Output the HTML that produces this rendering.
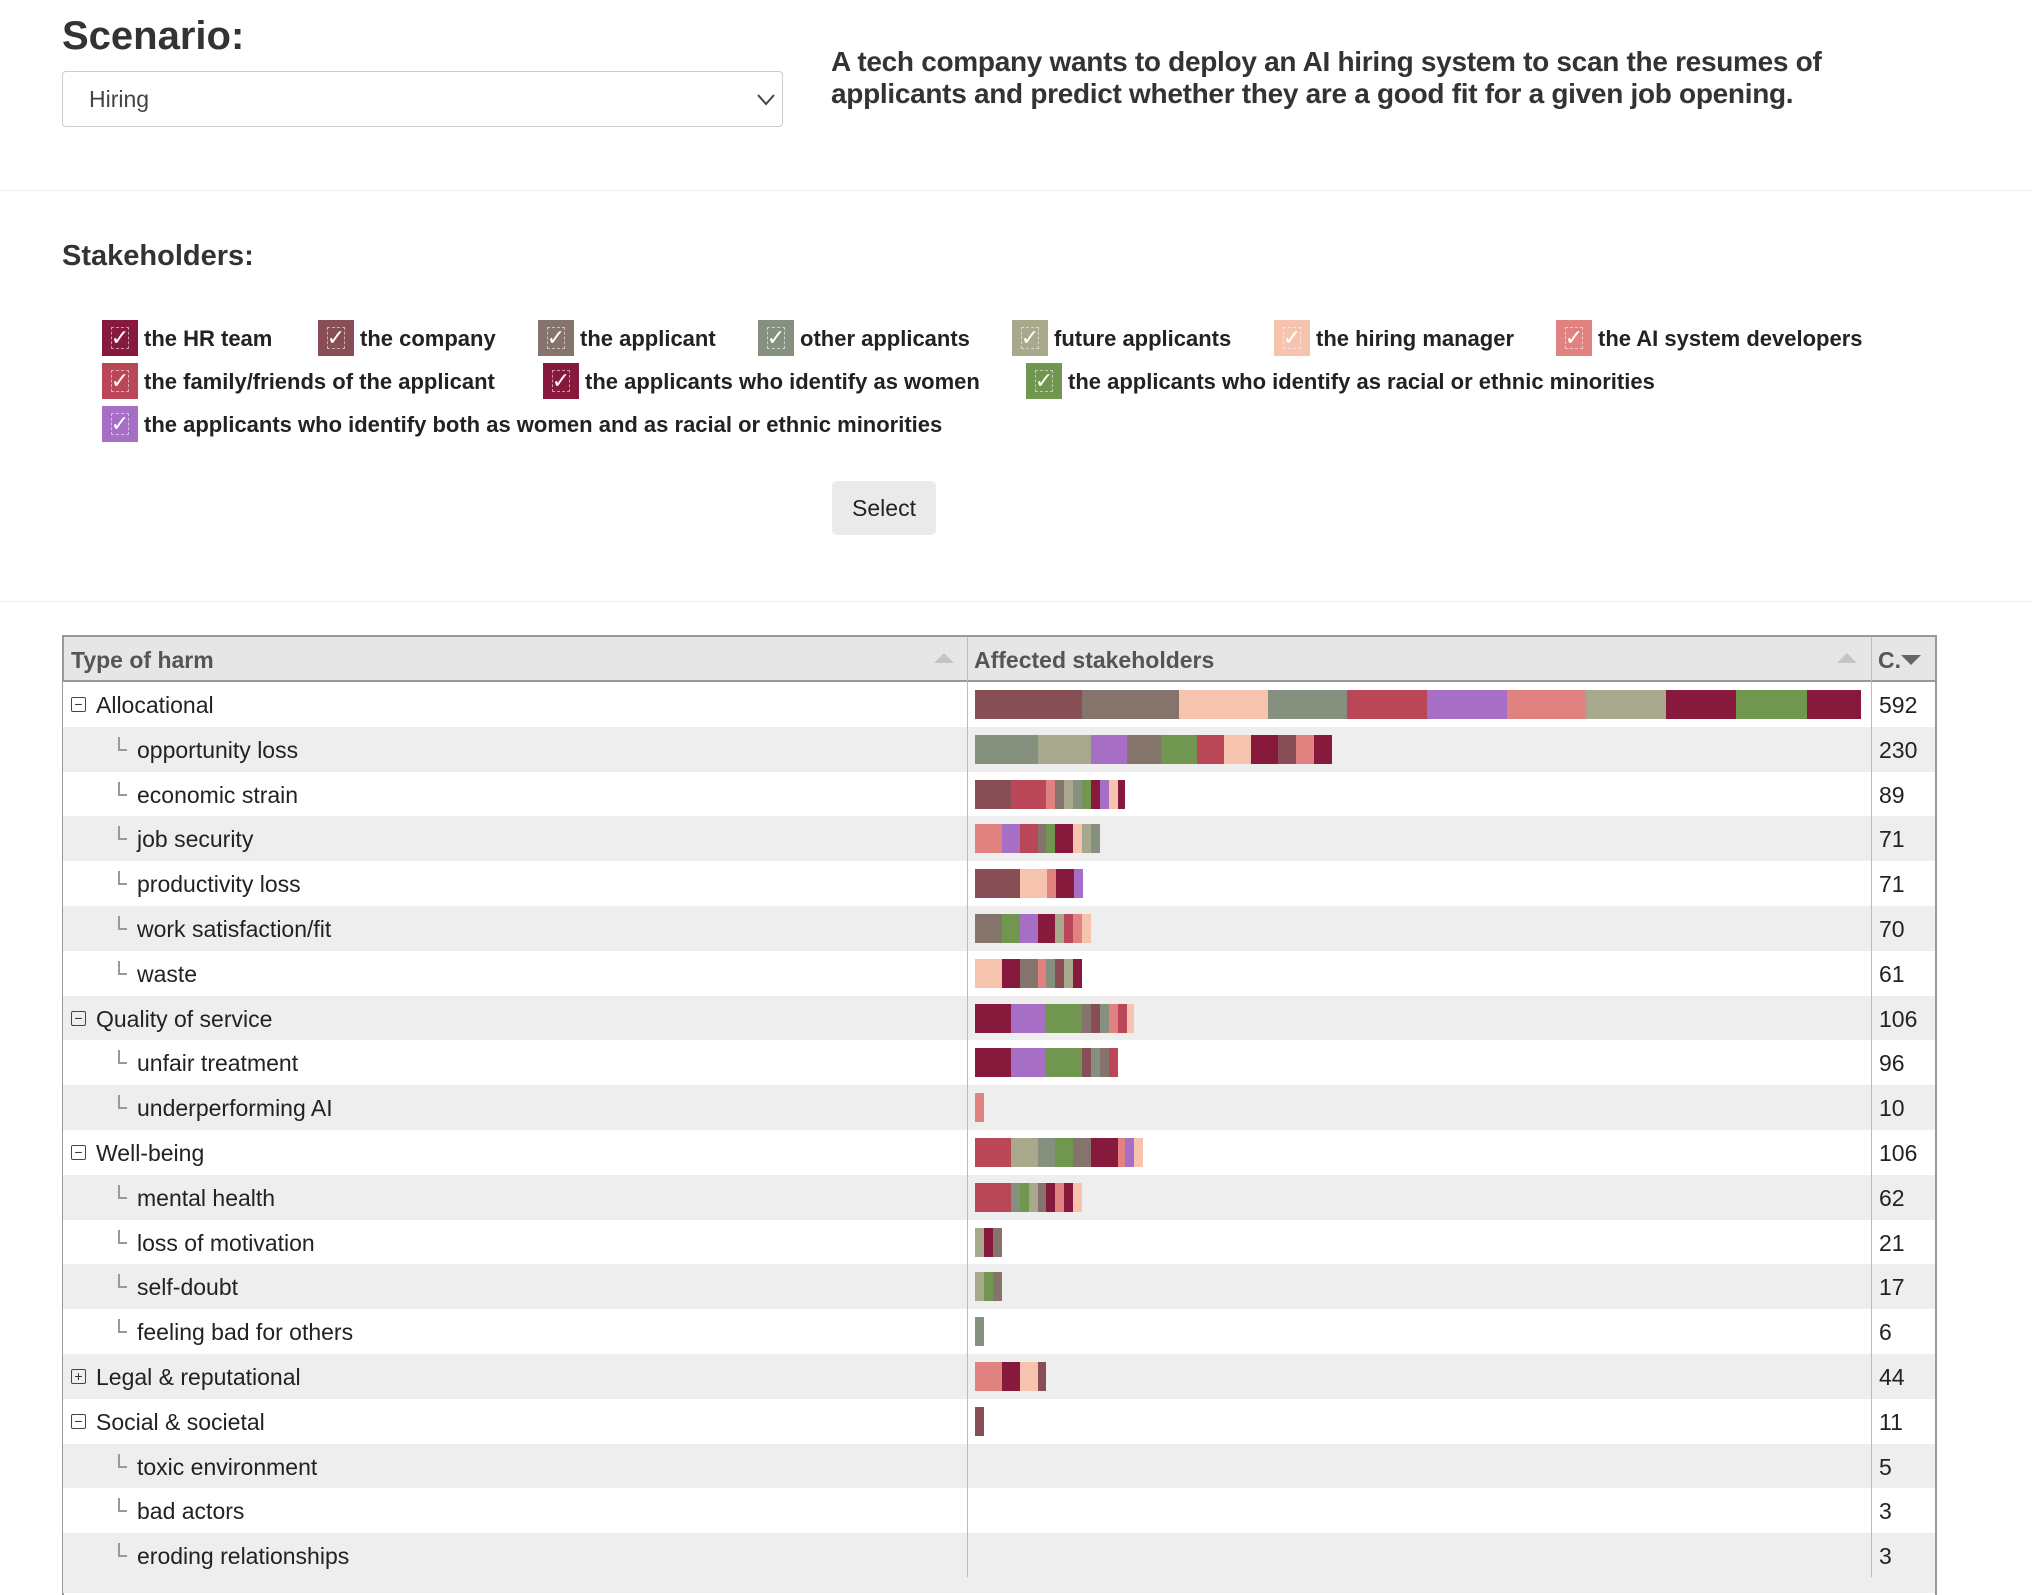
<!DOCTYPE html>
<html><head><meta charset="utf-8">
<style>
*{box-sizing:border-box;margin:0;padding:0}
body{width:2032px;height:1576px;overflow:hidden;background:#fff;font-family:"Liberation Sans",Arial,sans-serif;color:#222;position:relative}
.abs{position:absolute}
.cb{position:absolute;width:36px;height:36px;color:#fff;font-size:22px;text-align:center;line-height:36px}
.cb::after{content:"";position:absolute;left:9px;top:7px;width:16px;height:20px;border:1px dashed rgba(255,255,255,.55)}
.lbl{position:absolute;font-size:22px;font-weight:bold;color:#222;white-space:nowrap}
.row{position:absolute;left:63px;width:1872px;height:45px}
.cell{position:absolute;font-size:23px;white-space:nowrap;top:10px}
.seg{position:absolute}
</style></head><body>
<div class="abs" style="left:62px;top:14px;font-size:40px;font-weight:bold;color:#333">Scenario:</div>
<div class="abs" style="left:62px;top:71px;width:721px;height:56px;border:1px solid #ccc;border-radius:4px;background:#fff">
 <span class="abs" style="left:26px;top:14px;font-size:23px;color:#444">Hiring</span>
 <svg class="abs" style="left:694px;top:22px" width="18" height="12"><path d="M1 1 L9 10 L17 1" fill="none" stroke="#444" stroke-width="2"/></svg>
</div>
<div class="abs" style="left:831px;top:46px;font-size:28px;line-height:32px;color:#333;font-weight:bold;letter-spacing:-0.3px;width:1040px">A tech company wants to deploy an AI hiring system to scan the resumes of applicants and predict whether they are a good fit for a given job opening.</div>
<div class="abs" style="left:0;top:190px;width:2032px;height:1px;background:#eee"></div>
<div class="abs" style="left:62px;top:240px;font-size:29px;font-weight:bold;color:#333">Stakeholders:</div>
<div id="legend"></div>
<div class="abs" style="left:832px;top:481px;width:104px;height:54px;background:#eaeaea;border-radius:5px;font-size:23px;text-align:center;line-height:54px;color:#222">Select</div>
<div class="abs" style="left:0;top:601px;width:2032px;height:1px;background:#eee"></div>

<div class="abs" style="left:62px;top:635px;width:1875px;height:960px;border:2px solid #999;border-bottom:none"></div>
<div class="abs" style="left:64px;top:637px;width:1871px;height:45px;background:#e6e6e6;border-bottom:2px solid #999"></div>
<div class="abs" style="left:71px;top:647px;font-size:23px;font-weight:bold;color:#555">Type of harm</div>
<div class="abs" style="left:934px;top:653px;width:0;height:0;border-left:10px solid transparent;border-right:10px solid transparent;border-bottom:10px solid #c4c4c4"></div>
<div class="abs" style="left:974px;top:647px;font-size:23px;font-weight:bold;color:#555">Affected stakeholders</div>
<div class="abs" style="left:1837px;top:653px;width:0;height:0;border-left:10px solid transparent;border-right:10px solid transparent;border-bottom:10px solid #c4c4c4"></div>
<div class="abs" style="left:1878px;top:647px;font-size:23px;font-weight:bold;color:#555">C.</div>
<div class="abs" style="left:1901px;top:655px;width:0;height:0;border-left:10px solid transparent;border-right:10px solid transparent;border-top:10px solid #666"></div>
<div id="rows"></div>
<div class="abs" style="left:967px;top:637px;width:1px;height:940px;background:#bbb"></div>
<div class="abs" style="left:1871px;top:637px;width:1px;height:940px;background:#bbb"></div>

<script>
const colors = {c1:"#874E55",c2:"#84746C",c3:"#F6C3AE",c4:"#86907F",c5:"#BA4757",c6:"#A66FC5",c7:"#E08280",c8:"#A8A88C",c9:"#87193C",c10:"#70964F"};
const stakeholders = ["the HR team","the company","the applicant","other applicants","future applicants","the hiring manager","the AI system developers","the family/friends of the applicant","the applicants who identify as women","the applicants who identify as racial or ethnic minorities","the applicants who identify both as women and as racial or ethnic minorities"];
const stakeholderColors = ["c9","c1","c2","c4","c8","c3","c7","c5","c9","c10","c6"];
const harmLabels = ["Allocational","opportunity loss","economic strain","job security","productivity loss","work satisfaction/fit","waste","Quality of service","unfair treatment","underperforming AI","Well-being","mental health","loss of motivation","self-doubt","feeling bad for others","Legal & reputational","Social & societal","toxic environment","bad actors","eroding relationships"];
const harmLevels = [0,1,1,1,1,1,1,0,1,1,0,1,1,1,1,0,0,1,1,1];
const harmCounts = [592,230,89,71,71,70,61,106,96,10,106,62,21,17,6,44,11,5,3,3];
const segCounts = [
 [71,65,59,53,53,53,53,53,47,47,36],
 [42,35,24,23,24,18,18,18,12,12,12],
 [24,23,6,6,6,6,6,6,6,6,5],
 [18,12,12,5,6,12,6,6,6],
 [30,18,6,12,6],
 [18,12,12,11,6,6,6,6],
 [18,12,12,5,6,6,6,6],
 [24,23,24,6,6,6,6,6,5],
 [24,23,24,6,6,6,6],
 [6],
 [24,18,11,12,12,18,5,6,6],
 [24,6,6,6,5,6,6,6,6],
 [6,6,6],
 [6,6,6],
 [6],
 [18,12,12,5],
 [6],[],[],[]
];
const segColors = [
 ["c1","c2","c3","c4","c5","c6","c7","c8","c9","c10","c9"],
 ["c4","c8","c6","c2","c10","c5","c3","c9","c1","c7","c9"],
 ["c1","c5","c7","c2","c8","c4","c10","c9","c6","c3","c9"],
 ["c7","c6","c5","c2","c10","c9","c3","c8","c4"],
 ["c1","c3","c7","c9","c6"],
 ["c2","c10","c6","c9","c8","c5","c7","c3"],
 ["c3","c9","c2","c7","c4","c1","c8","c9"],
 ["c9","c6","c10","c2","c1","c4","c7","c5","c3"],
 ["c9","c6","c10","c1","c4","c2","c5"],
 ["c7"],
 ["c5","c8","c4","c10","c2","c9","c7","c6","c3"],
 ["c5","c4","c10","c8","c2","c9","c7","c9","c3"],
 ["c8","c9","c2"],
 ["c8","c10","c2"],
 ["c4"],
 ["c7","c9","c3","c1"],
 ["c1"],[],[],[]
];
const collapsed = [15];

const legPos=[[102,320],[318,320],[538,320],[758,320],[1012,320],[1274,320],[1556,320],[102,363],[543,363],[1026,363],[102,406]];
const leg=document.getElementById('legend');
stakeholders.forEach((s,i)=>{
 const b=document.createElement('div');b.className='cb';
 b.style.left=legPos[i][0]+'px';b.style.top=legPos[i][1]+'px';b.style.background=colors[stakeholderColors[i]];
 b.textContent='✓';
 
 
 leg.appendChild(b);
 const l=document.createElement('div');l.className='lbl';
 l.style.left=(legPos[i][0]+42)+'px';l.style.top=(legPos[i][1]+6)+'px';l.textContent=s;
 
 
 leg.appendChild(l);
});

const rowTop=682, pitch=44.8, barX0=975, barMaxW=889, maxTotal=592;
const xScale=v=>v*barMaxW/maxTotal;
const rows=document.getElementById('rows');
harmLabels.forEach((h,i)=>{
 const r=document.createElement('div');r.className='row';
 r.style.top=(rowTop+i*pitch)+'px';r.style.background=i%2?'#eee':'#fff';
 if(i===harmLabels.length-1) r.style.height='60px';
 
 
 if(harmLevels[i]===0){
  const ic=document.createElement('div');
  ic.style.cssText='position:absolute;left:8px;top:15px;width:15px;height:15px;border:1px solid #444;border-radius:2px;font-size:14px;line-height:12px;text-align:center;color:#333';
  ic.textContent=collapsed.includes(i)?'+':'−';
  
  
  r.appendChild(ic);
 } else {
  const t=document.createElement('div');
  t.style.cssText='position:absolute;left:55px;top:10px;width:9px;height:14px;border-left:2px solid #999;border-bottom:2px solid #999';
  
  
  r.appendChild(t);
 }
 const c=document.createElement('div');c.className='cell';
 c.style.left=(harmLevels[i]?74:33)+'px';c.textContent=h;
 
 
 r.appendChild(c);
 let acc=0;
 segCounts[i].forEach((v,j)=>{
  const s=document.createElement('div');s.className='seg';
  s.style.left=(barX0-63+xScale(acc))+'px';s.style.width=xScale(v)+'px';
  s.style.top='8px';s.style.height='29px';s.style.background=colors[segColors[i][j]];
  
  
  r.appendChild(s);acc+=v;
 });
 const n=document.createElement('div');n.className='cell';
 n.style.left='1816px';n.textContent=harmCounts[i];
 
 
 r.appendChild(n);
 rows.appendChild(r);
});
</script>
</body></html>
